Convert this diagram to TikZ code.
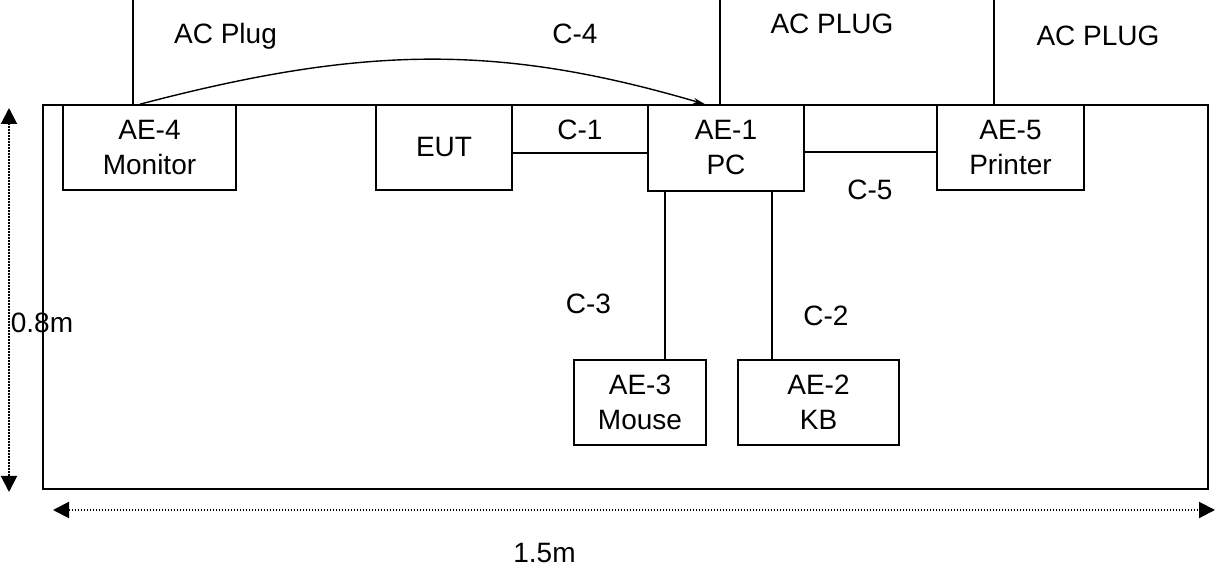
\documentclass[tikz,border=0pt]{standalone}
\usepackage{fontspec}
\setmainfont{Liberation Sans}
\usetikzlibrary{arrows.meta}
\begin{document}
\begin{tikzpicture}[x=0.5pt,y=-0.5pt,
  every node/.style={font=\fontsize{14pt}{17.5pt}\selectfont},
  unit/.style={draw,line width=0.8pt,align=center,inner sep=0pt,minimum height=42.5pt},
  wire/.style={line width=0.8pt},
  dim/.style={line width=1pt,dash pattern=on 0.8pt off 0.7pt,
    {Triangle[length=8pt,width=8pt]}-{Triangle[length=8pt,width=8pt]}},
  tag/.style={anchor=base}]
\useasboundingbox (0,0) rectangle (1216,571);
\node[draw,line width=1pt,minimum width=582.5pt,minimum height=192pt,inner sep=0pt] (room) at (625.5,297) {};
\node[unit,minimum width=86.5pt] (monitor) at (149.5,147.5) {AE-4\\Monitor};
\node[unit,minimum width=68pt] (eut) at (444,147.5) {EUT};
\node[unit,minimum width=78pt,minimum height=43pt] (pc) at (726,148) {AE-1\\PC};
\node[unit,minimum width=73.5pt] (printer) at (1010.5,147.5) {AE-5\\Printer};
\node[unit,minimum width=66pt] (mouse) at (640,402.5) {AE-3\\Mouse};
\node[unit,minimum width=80.5pt] (kb) at (818.5,402.5) {AE-2\\KB};
\draw[wire] (eut.east |- 0,153) -- (pc.west |- 0,153);
\draw[wire] (pc.east |- 0,152) -- (printer.west |- 0,152);
\draw[wire] (pc.south -| 665,0) -- (mouse.north -| 665,0);
\draw[wire] (pc.south -| 772,0) -- (kb.north -| 772,0);
\coordinate (plugL) at (133,0);
\coordinate (plugM) at (720,0);
\coordinate (plugR) at (994,0);
\draw[wire] (plugL) -- (plugL |- room.north);
\draw[wire] (plugM) -- (plugM |- room.north);
\draw[wire] (plugR) -- (plugR |- room.north);
\draw[wire,line width=0.7pt,-{Stealth[length=6pt,width=3pt]}] (monitor.north -| 140,0)
  .. controls (365,45) and (500,44) .. (pc.north -| 705,0);
\coordinate (dimTop) at (9,108);
\coordinate (dimBot) at (9,492);
\coordinate (dimL) at (53,510);
\coordinate (dimR) at (1215,510);
\draw[dim] (dimTop) -- (dimBot);
\draw[dim] (dimL) -- (dimR);
\node[tag] (plugLtxt) at (225.5,44) {AC Plug};
\node[tag] (c4) at (575,44) {C-4};
\node[tag] (plugMtxt) at (832,34) {AC PLUG};
\node[tag] (plugRtxt) at (1098,46) {AC PLUG};
\node[tag] (c1) at (580,140) {C-1};
\node[tag] (c5) at (870,200) {C-5};
\node[tag] (c3) at (588.5,314) {C-3};
\node[tag] (c2) at (826,326) {C-2};
\node[tag] (len08) at (42,333) {0.8m};
\node[tag] (len15) at (544.5,563) {1.5m};
\end{tikzpicture}
\end{document}
